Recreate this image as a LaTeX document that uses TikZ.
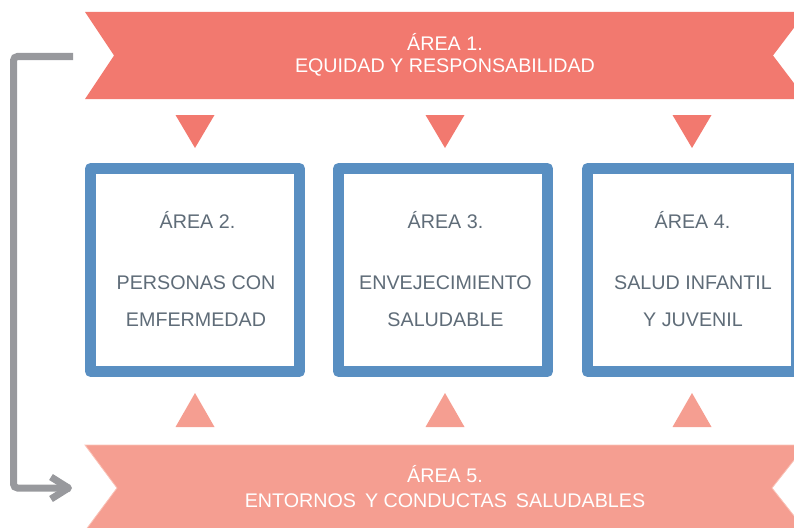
\documentclass[tikz,border=0pt]{standalone}
\usepackage{fontspec}
\setmainfont{Liberation Sans}
\usetikzlibrary{calc}
\definecolor{bannerA}{RGB}{242,121,111}
\definecolor{bannerB}{RGB}{245,158,145}
\definecolor{bannerBedge}{RGB}{250,195,184}
\definecolor{boxblue}{RGB}{89,143,194}
\definecolor{boxtext}{RGB}{95,108,120}
\definecolor{arrowgray}{RGB}{152,153,157}
\tikzset{
  areabox/.style={draw=boxblue, line width=11pt, line join=round, fill=white,
    minimum width=209pt, minimum height=203pt, inner sep=0pt},
  boxtxt/.style={text=boxtext, anchor=base, inner sep=0pt,
    font=\fontsize{19.7}{23}\selectfont},
  bantxt/.style={text=white, anchor=base, inner sep=0pt,
    font=\fontsize{19.7}{23}\selectfont},
  tridown/.style={fill=bannerA},
  triup/.style={fill=bannerB},
  flow/.style={draw=arrowgray, line width=7pt},
}
\begin{document}
\begin{tikzpicture}[x=1pt,y=-1pt]
\useasboundingbox (0,0) rectangle (794,527);
\clip (0,0) rectangle (794,527);
% top banner
\fill[bannerA] (85,12) -- (806,12) -- (773,55.5) -- (806,99) -- (85,99) -- (114,55.5) -- cycle;
\node[bantxt] (t1a) at (445,50) {ÁREA 1.};
\node[bantxt] (t1b) at (445,72) {EQUIDAD Y RESPONSABILIDAD};
% bottom banner
\filldraw[fill=bannerB, draw=bannerBedge, line width=0.8pt] (85,445) -- (806,445) -- (772,488) -- (806,531) -- (85,531) -- (117,488) -- cycle;
\node[bantxt] (t5a) at (445,482) {ÁREA 5.};
\node[bantxt] (t5b) at (445,507) {ENTORNOS\hspace{9pt}Y CONDUCTAS\hspace{9pt}SALUDABLES};
% triangles
\foreach \cx in {195,445,692}{
  \fill[tridown] (\cx-19.5,115) -- (\cx+19.5,115) -- (\cx,148) -- cycle;
  \fill[triup] (\cx-19.5,427) -- (\cx+19.5,427) -- (\cx,393) -- cycle;
}
% boxes
\node[areabox] (b2) at (195,270) {};
\node[areabox] (b3) at (443,270) {};
\node[areabox] (b4) at (692,270) {};
\node[boxtxt] (b2a) at (197.5,228) {ÁREA 2.};
\node[boxtxt] (b2b) at (196,289) {PERSONAS CON};
\node[boxtxt] (b2c) at (196,326) {EMFERMEDAD};
\node[boxtxt] (b3a) at (445.5,228) {ÁREA 3.};
\node[boxtxt] (b3b) at (445.5,289) {ENVEJECIMIENTO};
\node[boxtxt] (b3c) at (445.5,326) {SALUDABLE};
\node[boxtxt] (b4a) at (692.5,228) {ÁREA 4.};
\node[boxtxt] (b4b) at (693,289) {SALUD INFANTIL};
\node[boxtxt] (b4c) at (693,326) {Y JUVENIL};
% gray flow arrow
\coordinate (fa) at (73,56.5);
\coordinate (fb) at (70,488);
\draw[flow, rounded corners=4pt] (fa) -- (13.5,56.5) -- (13.5,488) -- (fb);
\draw[flow, line join=round] ($(fb)+(-19,-11)$) -- ($(fb)+(-1.5,0)$) -- ($(fb)+(-19,11)$);
\end{tikzpicture}
\end{document}
